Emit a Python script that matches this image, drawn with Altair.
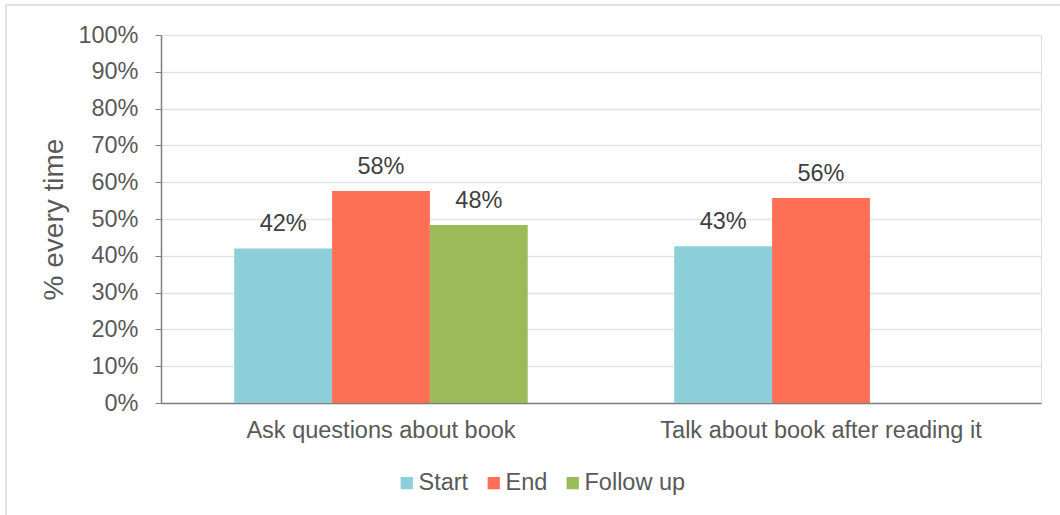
import altair as alt
import pandas as pd

categories = ["Ask questions about book", "Ask questions about book", "Ask questions about book",
              "Talk about book after reading it", "Talk about book after reading it"]
series = ["Start", "End", "Follow up", "Start", "End"]
values = [0.42, 0.576, 0.484, 0.426, 0.557]

series_order = ["Start", "End", "Follow up"]
colors = ["#8ccfda", "#ff6f55", "#9bbb59"]
cat_order = ["Ask questions about book", "Talk about book after reading it"]

df = pd.DataFrame({"category": categories, "series": series, "value": values})

FONT = "Liberation Sans"
FS = 23.5

x = alt.X("category:N", sort=cat_order, title=None,
          scale=alt.Scale(paddingInner=0.333, paddingOuter=0.1665),
          axis=alt.Axis(labelAngle=0, labelFontSize=FS, labelColor="#595959", labelFont=FONT,
                        labelLimit=0, ticks=False, domainColor="#7f7f7f", domainWidth=1.5,
                        labelPadding=15, grid=False))
xo = alt.XOffset("series:N", sort=series_order,
                 scale=alt.Scale(domain=series_order, paddingInner=0, paddingOuter=0))
y = alt.Y("value:Q", title="% every time",
          scale=alt.Scale(domain=[0, 1], nice=False),
          axis=alt.Axis(format=".0%", values=[i / 10 for i in range(11)], labelFontSize=FS,
                        labelColor="#595959", labelFont=FONT, titleFont=FONT, titleFontSize=28,
                        titleFontWeight="normal", titleColor="#595959",
                        titleX=-107, titleY=184, titleAlign="center", titleBaseline="middle",
                        titleAngle=270,
                        domainColor="#7f7f7f", domainWidth=1.5, tickColor="#7f7f7f", tickSize=6,
                        labelPadding=17, gridColor="#e3e3e3", gridWidth=1.5))
color = alt.Color("series:N", sort=series_order,
                  scale=alt.Scale(domain=series_order, range=colors),
                  legend=alt.Legend(title=None, orient="none", direction="horizontal",
                                    legendX=234, legendY=436, symbolType="square", symbolSize=150,
                                    symbolStrokeWidth=0, labelFontSize=FS, labelFont=FONT,
                                    labelColor="#595959", columnPadding=13, labelOffset=0))

bars = alt.Chart(df).mark_bar().encode(x=x, xOffset=xo, y=y, color=color)
labels = alt.Chart(df).mark_text(dy=-17, baseline="alphabetic", fontSize=FS, font=FONT,
                                 color="#404040").encode(
    x=x, xOffset=xo, y=y, text=alt.Text("value:Q", format=".0%"))

border = alt.Chart(pd.DataFrame({"a": [0]})).mark_rect(
    fill=None, stroke="#d9d9d9", strokeWidth=1.5).encode(
    x=alt.value(-155), x2=alt.value(930), y=alt.value(-30), y2=alt.value(500))

chart = alt.layer(border, bars, labels).properties(
    width=880, height=368,
    autosize=alt.AutoSizeParams(type="none"),
    padding={"left": 161, "top": 35, "right": 19, "bottom": 112},
).configure_view(stroke=None).configure(font=FONT)

chart.save("out.html", embed_options={"renderer": "svg", "actions": False})
